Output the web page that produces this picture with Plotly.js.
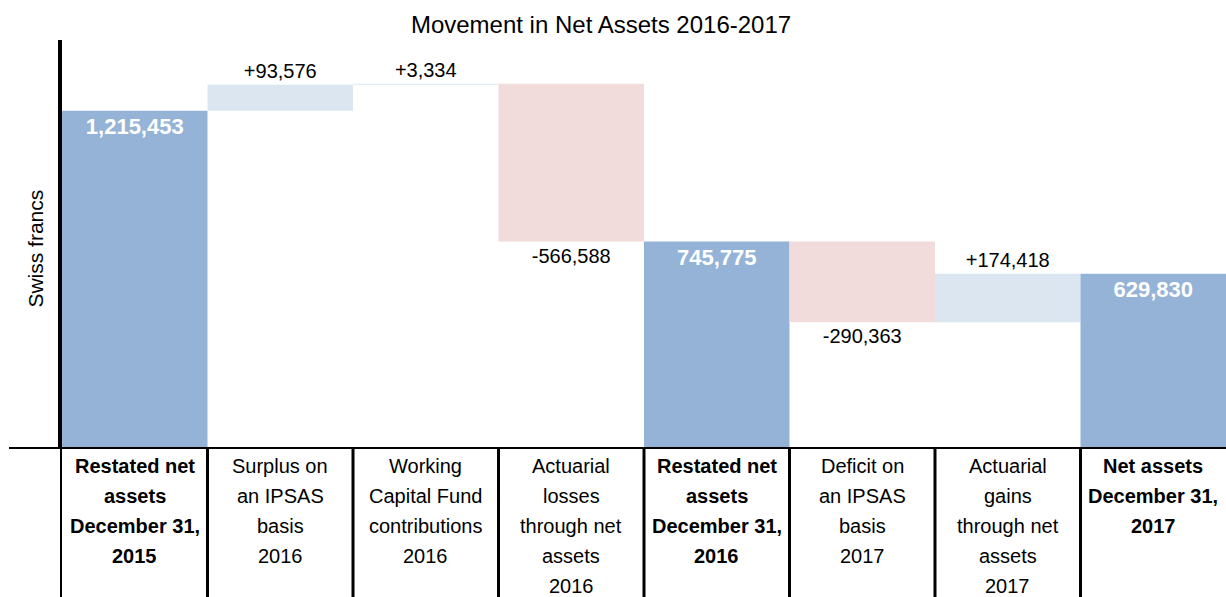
<!DOCTYPE html>
<html>
<head>
<meta charset="utf-8">
<script src="https://cdn.plot.ly/plotly-3.0.1.min.js"></script>
<style>
  html, body { margin: 0; padding: 0; background: #fff; }
  #graph { width: 1226px; height: 597px; }
</style>
</head>
<body>
<div id="graph"></div>
<script>
// Données du graphique
const categories = ['Restated net assets 2015', 'Surplus 2016', 'WCF contributions 2016', 'Actuarial losses 2016',
                    'Restated net assets 2016', 'Deficit 2017', 'Actuarial gains 2017', 'Net assets 2017'];
const labelLines = [
    ['Restated net', 'assets', 'December 31,', '2015'],
    ['Surplus on', 'an IPSAS', 'basis', '2016'],
    ['Working', 'Capital Fund', 'contributions', '2016'],
    ['Actuarial', 'losses', 'through net', 'assets', '2016'],
    ['Restated net', 'assets', 'December 31,', '2016'],
    ['Deficit on', 'an IPSAS', 'basis', '2017'],
    ['Actuarial', 'gains', 'through net', 'assets', '2017'],
    ['Net assets', 'December 31,', '2017']
];
const measures = ['absolute', 'relative', 'relative', 'relative', 'total', 'relative', 'relative', 'total'];
const values = [1215453, 93576, 3334, -566588, 745775, -290363, 174418, 629830];

const FONT = 'Liberation Sans, Arial, sans-serif';
const plotH = 409; // hauteur de la zone de tracé (px)

const fmt = v => Math.abs(v).toLocaleString('en-US');
const isTotal = measures.map(m => m !== 'relative');
const texts = values.map((v, i) => isTotal[i] ? '<b>' + fmt(v) + '</b>' : (v >= 0 ? '+' : '-') + fmt(v));

const trace = {
    type: 'waterfall',
    x: categories,
    y: values,
    measure: measures,
    text: texts,
    textposition: isTotal.map(t => t ? 'inside' : 'outside'),
    insidetextanchor: 'end',
    insidetextfont: { family: FONT, size: 22, color: '#ffffff' },
    outsidetextfont: { family: FONT, size: 20, color: '#000000' },
    textangle: 0,
    constraintext: 'none',
    cliponaxis: false,
    increasing: { marker: { color: '#dce6f1' } },
    decreasing: { marker: { color: '#f2dcdb' } },
    totals: { marker: { color: '#95b3d7' } },
    connector: { visible: false },
    hoverinfo: 'skip'
};

// Libellés des catégories sous l'axe, une ligne par annotation
const annotations = [];
labelLines.forEach((lines, i) => {
    lines.forEach((line, j) => {
        annotations.push({
            x: categories[i], xref: 'x',
            y: -(17 + 30 * j) / plotH, yref: 'paper',
            xanchor: 'center', yanchor: 'middle',
            text: isTotal[i] ? '<b>' + line + '</b>' : line,
            showarrow: false,
            font: { family: FONT, size: 20, color: '#000' }
        });
    });
});

// Titre de l'axe vertical
annotations.push({
    x: -26 / 1164, xref: 'paper', y: 0.49, yref: 'paper',
    xanchor: 'center', yanchor: 'middle', textangle: -90,
    text: 'Swiss francs', showarrow: false,
    font: { family: FONT, size: 21, color: '#000' }
});

// Lignes du tableau
const shapes = [];
for (let i = 1; i < categories.length; i++) {
    shapes.push({
        type: 'line', xref: 'x', yref: 'paper',
        x0: i - 0.5, x1: i - 0.5, y0: 0, y1: -148 / plotH,
        line: { color: '#000', width: 3 }
    });
}
shapes.push({
    type: 'line', xref: 'paper', yref: 'paper',
    x0: -1 / 1164, x1: -1 / 1164, y0: 0, y1: -148 / plotH,
    line: { color: '#000', width: 2 }
});
shapes.push({
    type: 'line', xref: 'paper', yref: 'y',
    x0: -53 / 1164, x1: 1, y0: 0, y1: 0,
    line: { color: '#000', width: 4 }
});

const layout = {
    width: 1226,
    height: 597,
    margin: { l: 62, r: 0, t: 40, b: 148 },
    paper_bgcolor: '#fff',
    plot_bgcolor: '#fff',
    font: { family: FONT, color: '#000' },
    title: {
        text: 'Movement in Net Assets 2016-2017',
        font: { family: FONT, size: 24, color: '#000' },
        x: 601 / 1226, xref: 'container', xanchor: 'center',
        y: 1 - 25 / 597, yanchor: 'middle'
    },
    showlegend: false,
    waterfallgap: 0,
    xaxis: {
        type: 'category',
        range: [-0.5, 7.5],
        showticklabels: false,
        showgrid: false,
        zeroline: false,
        ticks: ''
    },
    yaxis: {
        range: [0, 1470000],
        showticklabels: false,
        showgrid: false,
        zeroline: false,
        ticks: '',
        showline: true,
        linecolor: '#000',
        linewidth: 4
    },
    annotations: annotations,
    shapes: shapes
};

Plotly.newPlot('graph', [trace], layout, { displayModeBar: false, staticPlot: true });
</script>
</body>
</html>
